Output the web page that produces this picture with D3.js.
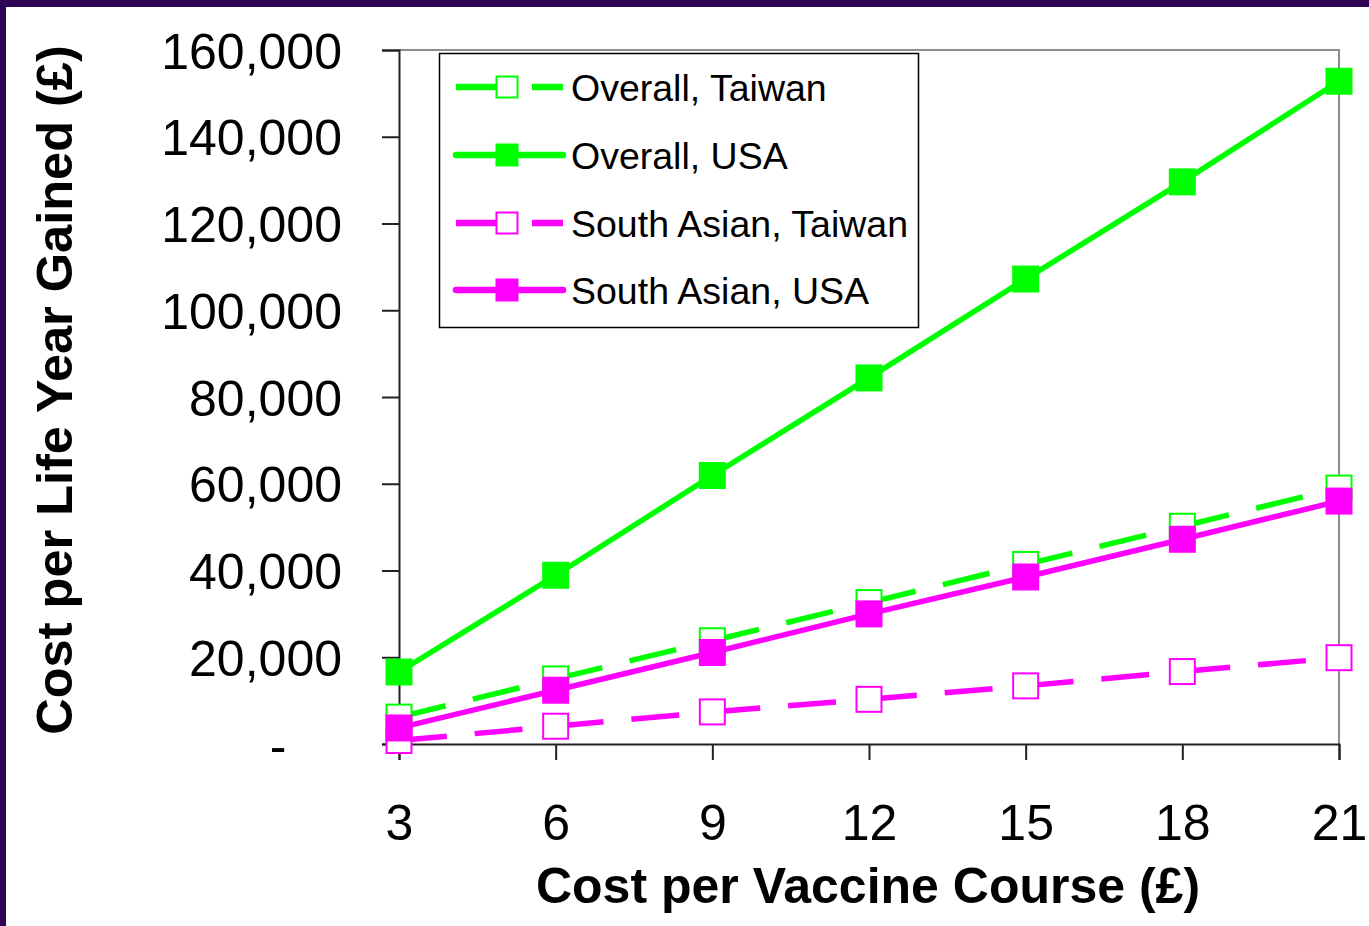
<!DOCTYPE html>
<html>
<head>
<meta charset="utf-8">
<script src="https://cdn.jsdelivr.net/npm/d3@7"></script>
<style>
  html, body { margin: 0; padding: 0; background: #2f0456; }
  svg { display: block; }
  text { font-family: "Liberation Sans", Arial, sans-serif; fill: #000; }
</style>
</head>
<body>
<svg id="chart" width="1369" height="926"></svg>
<script>
// Cost per vaccine course (£)
const vaccineCost = [3, 6, 9, 12, 15, 18, 21];

// Cost per life year gained (£) for each scenario
const overallTaiwan     = [6200, 15000, 23800, 32600, 41400, 50200, 59000];
const overallUSA        = [16600, 38900, 61900, 84400, 107200, 129600, 152800];
const southAsianTaiwan  = [800, 4100, 7400, 10300, 13400, 16700, 19900];
const southAsianUSA     = [3700, 12400, 21100, 30000, 38500, 47200, 56000];

const seriesNames = ["Overall, Taiwan", "Overall, USA", "South Asian, Taiwan", "South Asian, USA"];
const yTicks = [0, 20000, 40000, 60000, 80000, 100000, 120000, 140000, 160000];

const series = [
  { name: seriesNames[0], values: overallTaiwan,    color: "#00ff00", dashed: true,  filled: false },
  { name: seriesNames[1], values: overallUSA,       color: "#00ff00", dashed: false, filled: true },
  { name: seriesNames[2], values: southAsianTaiwan, color: "#ff00ff", dashed: true,  filled: false },
  { name: seriesNames[3], values: southAsianUSA,    color: "#ff00ff", dashed: false, filled: true }
];

const svg = d3.select("#chart");

// white panel inside the purple frame
svg.append("rect").attr("x", 6).attr("y", 7).attr("width", 1369 - 6).attr("height", 926 - 7).attr("fill", "#fff");

const plot = { left: 399, right: 1339, top: 50, bottom: 744 };
const x = d3.scaleLinear().domain([3, 21]).range([plot.left, plot.right]);
const y = d3.scaleLinear().domain([0, 160000]).range([plot.bottom, plot.top]);

// grey frame on top and right of the plot area
svg.append("path")
  .attr("d", `M${plot.left},${plot.top}H${plot.right}V${plot.bottom}`)
  .attr("fill", "none").attr("stroke", "#8c8c8c").attr("stroke-width", 2);

// y axis
const yFont = 50;
const yAxis = svg.append("g")
  .attr("transform", `translate(${plot.left},0)`)
  .call(d3.axisLeft(y).tickValues(yTicks).tickSize(17).tickPadding(40)
    .tickFormat(d => d === 0 ? "-" : d3.format(",")(d)));
yAxis.select(".domain").attr("stroke", "#222").attr("stroke-width", 2);
yAxis.selectAll(".tick line").attr("stroke", "#222").attr("stroke-width", 2);
yAxis.selectAll(".tick text")
  .attr("font-size", yFont).attr("font-family", "Liberation Sans, Arial, sans-serif").attr("fill", "#000")
  .attr("dy", "0.36em")
  .attr("dx", d => d === 0 ? -2 * 0.556 * yFont : 0);

// x axis
const xAxis = svg.append("g")
  .attr("transform", `translate(0,${plot.bottom})`)
  .call(d3.axisBottom(x).tickValues(vaccineCost).tickSize(16).tickPadding(40));
xAxis.select(".domain").attr("stroke", "#222").attr("stroke-width", 2);
xAxis.selectAll(".tick line").attr("stroke", "#222").attr("stroke-width", 2);
xAxis.selectAll(".tick text")
  .attr("font-size", 50).attr("font-family", "Liberation Sans, Arial, sans-serif").attr("fill", "#000")
  .attr("dy", 0).attr("y", 96);

// axis titles
svg.append("text")
  .attr("x", 868).attr("y", 903)
  .attr("text-anchor", "middle")
  .attr("font-size", 50).attr("font-weight", "bold")
  .text("Cost per Vaccine Course (£)");

svg.append("text")
  .attr("transform", "translate(72,390) rotate(-90)")
  .attr("text-anchor", "middle")
  .attr("font-size", 50.5).attr("font-weight", "bold")
  .text("Cost per Life Year Gained (£)");

const line = d3.line().x(d => x(d[0])).y(d => y(d[1]));
const markerSize = 27;
const dash = "48,28";

series.forEach(s => {
  const pts = vaccineCost.map((c, i) => [c, s.values[i]]);
  const g = svg.append("g");
  if (s.dashed) {
    // dash pattern restarts at each data point
    for (let i = 0; i < pts.length - 1; i++) {
      g.append("path")
        .attr("d", line([pts[i], pts[i + 1]]))
        .attr("fill", "none").attr("stroke", s.color)
        .attr("stroke-width", 5.5).attr("stroke-dasharray", dash);
    }
  } else {
    g.append("path")
      .attr("d", line(pts))
      .attr("fill", "none").attr("stroke", s.color)
      .attr("stroke-width", 5.5).attr("stroke-linejoin", "round");
  }
  g.selectAll("rect.m").data(pts).join("rect")
    .attr("class", "m")
    .attr("x", d => x(d[0]) - markerSize / 2 + (s.filled ? 0 : 1))
    .attr("y", d => y(d[1]) - markerSize / 2 + (s.filled ? 0 : 1))
    .attr("width", s.filled ? markerSize : markerSize - 2)
    .attr("height", s.filled ? markerSize : markerSize - 2)
    .attr("fill", s.filled ? s.color : "#fff")
    .attr("stroke", s.filled ? "none" : s.color)
    .attr("stroke-width", 2);
});

// legend
const legend = svg.append("g");
legend.append("rect")
  .attr("x", 439.5).attr("y", 53.5).attr("width", 479).attr("height", 274)
  .attr("fill", "#fff").attr("stroke", "#000").attr("stroke-width", 1.5);

const rowY = [87, 155, 223, 290];
series.forEach((s, i) => {
  const gy = rowY[i];
  const row = legend.append("g");
  row.append("path")
    .attr("d", `M456,${gy}H563`)
    .attr("fill", "none").attr("stroke", s.color).attr("stroke-width", 6.5)
    .attr("stroke-linecap", s.dashed ? "butt" : "round")
    .attr("stroke-dasharray", s.dashed ? dash : null);
  const ms = 23;
  row.append("rect")
    .attr("x", 507 - ms / 2 + (s.filled ? 0 : 1))
    .attr("y", gy - ms / 2 + (s.filled ? 0 : 1))
    .attr("width", s.filled ? ms : ms - 2)
    .attr("height", s.filled ? ms : ms - 2)
    .attr("fill", s.filled ? s.color : "#fff")
    .attr("stroke", s.filled ? "none" : s.color)
    .attr("stroke-width", 2);
  row.append("text")
    .attr("x", 571).attr("y", gy).attr("dy", "0.36em")
    .attr("font-size", 37.5)
    .text(s.name);
});
</script>
</body>
</html>
